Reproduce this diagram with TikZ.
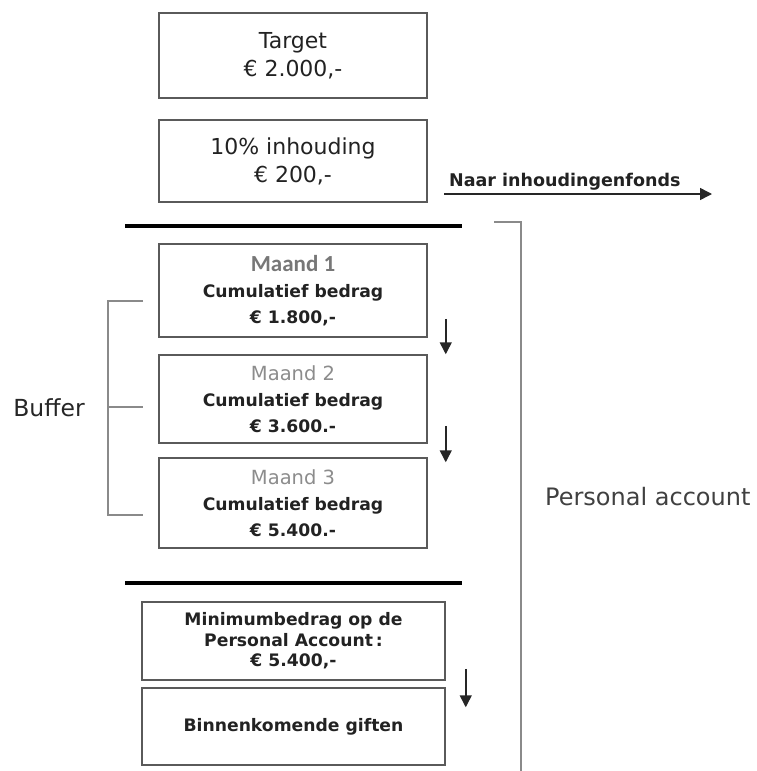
\documentclass[tikz,border=0pt]{standalone}
\usepackage{fontspec}
\setmainfont{DejaVu Sans}
\newfontfamily\calfont{Carlito}
\usetikzlibrary{arrows.meta}
\definecolor{rand}{HTML}{5A5A5A}
\definecolor{haak}{HTML}{8A8A8A}
\definecolor{maandeen}{HTML}{777777}
\definecolor{maandgrijs}{HTML}{8C8C8C}
\definecolor{tekst}{HTML}{222222}
\newcommand{\groot}{\fontsize{22}{28}\selectfont}
\newcommand{\vet}{\fontsize{17.2}{26}\selectfont\bfseries}
\newcommand{\vetklein}{\fontsize{17.2}{20.5}\selectfont\bfseries}
\tikzset{
  blok/.style={draw=rand, line width=1.5pt, inner sep=0pt, align=center,
    text=tekst, minimum width=268},
  blokbreed/.style={blok, minimum width=303, font=\vetklein},
  maandblok/.style={blok, font=\vet},
  scheiding/.style={line width=4pt, black},
  pijl/.style={-{Triangle[length=12pt,width=12pt]}, line width=1.5pt, black!85},
  haakje/.style={draw=haak, line width=2pt},
}
\begin{document}
\begin{tikzpicture}[x=1pt,y=-1pt]
  \useasboundingbox (0,0) rectangle (757,771);
  % bovenste blokken
  \node[blok, minimum height=85, font=\groot] (target) at (293,55.5) {Target\\€ 2.000,-};
  \node[blok, minimum height=82, font=\groot] (inhouding) at (293,161) {10\% inhouding\\€ 200,-};
  \coordinate (naarbegin) at (444,194);
  \coordinate (naareind) at (712,194);
  \draw[pijl] (naarbegin) -- (naareind);
  \node[anchor=south west, text=tekst, font=\fontsize{17.5}{20}\selectfont\bfseries, inner sep=0pt]
    (naar) at ([xshift=5pt,yshift=4pt]naarbegin) {Naar inhoudingenfonds};
  \draw[scheiding] (125,226) -- (462,226);
  % buffer
  \node[maandblok, minimum height=93] (maand1) at (293,290.5)
    {{\calfont\fontsize{23}{26}\selectfont\color{maandeen}Maand 1}\\Cumulatief bedrag\\€ 1.800,-};
  \node[maandblok, minimum height=88] (maand2) at (293,399)
    {{\mdseries\fontsize{19.5}{26}\selectfont\color{maandgrijs}Maand 2}\\Cumulatief bedrag\\€ 3.600.-};
  \node[maandblok, minimum height=90] (maand3) at (293,503)
    {{\mdseries\fontsize{19.5}{26}\selectfont\color{maandgrijs}Maand 3}\\Cumulatief bedrag\\€ 5.400.-};
  \draw[pijl] ([xshift=18pt,yshift=19pt]maand1.south east) -- ([xshift=18pt]maand2.north east);
  \draw[pijl] ([xshift=18pt,yshift=18pt]maand2.south east) -- ([xshift=18pt,yshift=-5pt]maand3.north east);
  \coordinate (bufboven) at (143,301);
  \coordinate (bufmidden) at (143,407);
  \coordinate (bufonder) at (143,515);
  \draw[haakje] (bufboven) -- (108,301) -- (108,515) -- (bufonder);
  \draw[haakje] (108,407) -- (bufmidden);
  \node[text=black!85, font=\fontsize{23.5}{26}\selectfont] (buffer) at (49,408) {Buffer};
  \draw[scheiding] (125,583) -- (462,583);
  % onderste blokken
  \node[blokbreed, minimum height=78] (minimum) at (293.5,641)
    {Minimumbedrag op de\\Personal Account\,:\\€ 5.400,-};
  \node[blokbreed, minimum height=77] (binnen) at (293.5,726.5) {Binnenkomende giften};
  \draw[pijl] ([xshift=20pt,yshift=12pt]minimum.south east) -- ([xshift=20pt,yshift=-20pt]binnen.north east);
  % personal account
  \coordinate (pabegin) at (494,222);
  \coordinate (paeind) at (521,771);
  \draw[haakje] (pabegin) -- (521,222) -- (paeind);
  \node[anchor=west, text=black!75, font=\fontsize{24}{26}\selectfont, inner sep=0pt] (pa) at (545,497) {Personal account};
\end{tikzpicture}
\end{document}
